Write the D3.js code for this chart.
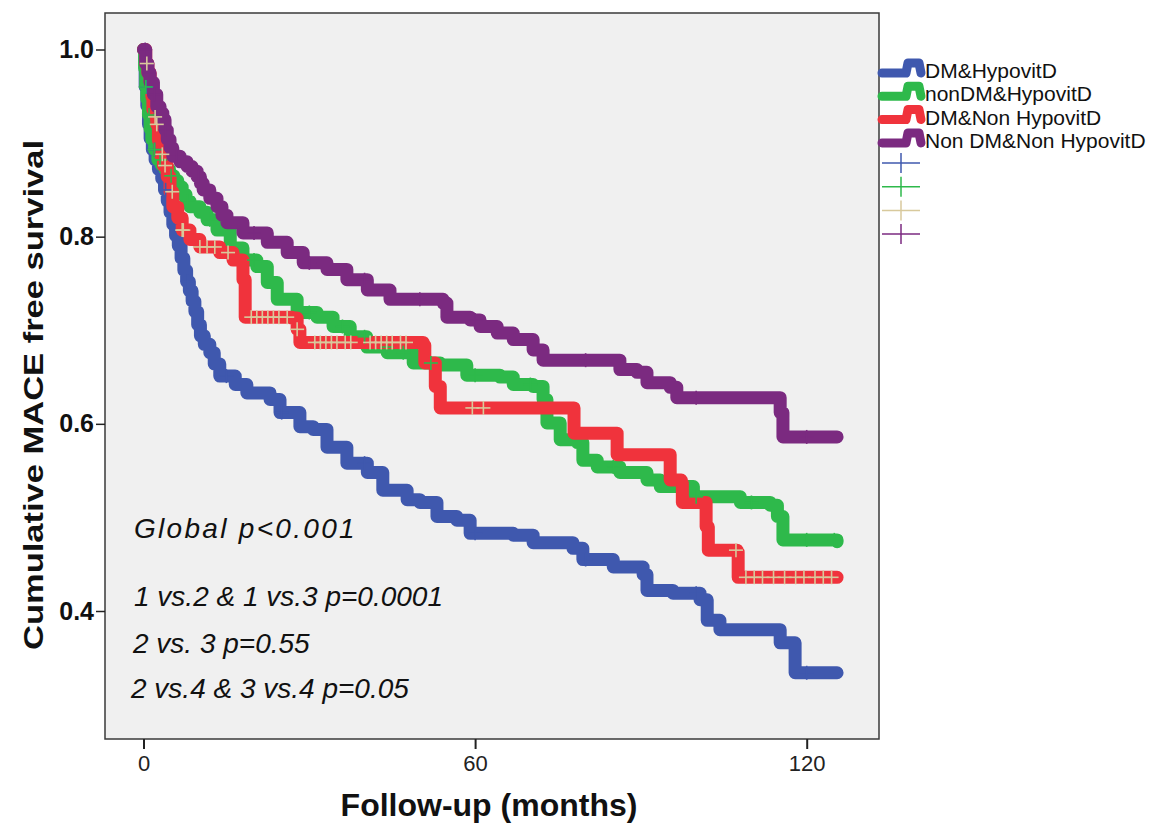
<!DOCTYPE html>
<html>
<head>
<meta charset="utf-8">
<script src="https://cdn.jsdelivr.net/npm/d3@7"></script>
<style>
  body { margin: 0; background: #fff; }
  svg { display: block; font-family: "Liberation Sans", Arial, Helvetica, sans-serif; }
</style>
</head>
<body>
<div id="chart"></div>
<script>
var width = 1156, height = 827;

// step points [month, survival]
var dmHypo = [[0,1.0],[0.3,0.96],[0.6,0.94],[0.9,0.92],[1.2,0.905],[1.6,0.893],[2.1,0.882],[2.7,0.872],[3.3,0.862],[3.8,0.85],[4.3,0.838],[4.8,0.826],[5.3,0.813],[5.8,0.801],[6.3,0.79],[6.8,0.777],[7.3,0.764],[7.8,0.752],[8.3,0.742],[8.8,0.731],[9.3,0.72],[9.8,0.706],[10.3,0.694],[11.0,0.685],[12.0,0.676],[12.8,0.664],[13.8,0.651],[16.6,0.642],[18.7,0.633],[22.9,0.626],[24.7,0.612],[28.3,0.597],[30.7,0.594],[33.2,0.575],[36.8,0.558],[40.5,0.548],[43.3,0.529],[47.7,0.519],[50.0,0.516],[53.1,0.501],[56.7,0.497],[59.1,0.483],[66.9,0.481],[70.5,0.473],[77.7,0.467],[79.5,0.455],[85.0,0.447],[90.4,0.439],[91.1,0.422],[95.8,0.419],[100.7,0.412],[102.0,0.390],[104.3,0.380],[114.6,0.380],[115.2,0.366],[117.6,0.366],[117.9,0.334],[125.5,0.334]];
var nonDmHypo = [[0,1.0],[0.2,0.98],[0.4,0.96],[0.6,0.947],[0.9,0.93],[1.2,0.915],[1.5,0.904],[2.0,0.893],[2.6,0.882],[3.2,0.877],[3.9,0.872],[4.7,0.865],[5.5,0.86],[6.2,0.853],[7.0,0.845],[7.7,0.838],[8.4,0.832],[10.2,0.826],[11.5,0.818],[13.3,0.807],[15.7,0.788],[18.0,0.775],[20.5,0.768],[22.4,0.751],[24.2,0.733],[27.8,0.719],[31.4,0.714],[34.3,0.704],[37.4,0.693],[40.4,0.682],[44.1,0.676],[48.8,0.665],[53.7,0.663],[58.5,0.652],[64.5,0.650],[66.9,0.642],[70.5,0.640],[72.3,0.626],[73.0,0.601],[75.4,0.583],[78.5,0.580],[79.5,0.561],[82.1,0.554],[86.2,0.548],[91.1,0.540],[93.5,0.533],[99.5,0.522],[108.0,0.516],[113.4,0.513],[114.7,0.501],[115.7,0.476],[125.5,0.474]];
var dmNonHypo = [[0,1.0],[0.4,0.985],[0.8,0.975],[1.2,0.965],[1.5,0.95],[1.7,0.936],[2.1,0.928],[2.4,0.92],[2.7,0.903],[3.0,0.888],[3.6,0.876],[4.3,0.864],[4.8,0.848],[5.3,0.832],[6.2,0.82],[7.0,0.807],[8.4,0.797],[10.2,0.789],[13.8,0.783],[16.2,0.775],[18.0,0.754],[18.4,0.714],[26.9,0.713],[27.8,0.701],[28.3,0.687],[50.6,0.684],[50.9,0.665],[52.8,0.640],[53.7,0.617],[77.5,0.617],[77.9,0.590],[85.3,0.590],[85.7,0.567],[94.9,0.567],[95.3,0.540],[97.3,0.537],[97.5,0.516],[101.5,0.516],[101.8,0.490],[102.2,0.465],[107.4,0.463],[107.6,0.436],[125.5,0.436]];
var nonDmNonHypo = [[0,1.0],[0.4,0.985],[0.8,0.975],[1.2,0.965],[1.8,0.952],[2.4,0.939],[3.0,0.932],[3.5,0.925],[3.9,0.914],[4.3,0.904],[4.8,0.895],[5.3,0.886],[6.6,0.88],[7.9,0.875],[8.8,0.87],[9.7,0.864],[10.3,0.857],[10.8,0.85],[12.0,0.841],[13.3,0.832],[14.2,0.823],[15.1,0.815],[18.0,0.804],[22.4,0.794],[26.0,0.783],[28.9,0.772],[33.2,0.765],[36.8,0.754],[40.5,0.743],[44.6,0.733],[54.2,0.729],[54.9,0.714],[59.1,0.711],[60.9,0.704],[64.0,0.697],[66.9,0.690],[70.5,0.679],[72.3,0.668],[85.0,0.668],[86.2,0.658],[89.3,0.655],[91.1,0.644],[95.3,0.639],[96.5,0.628],[113.9,0.628],[115.2,0.612],[115.7,0.586],[125.5,0.586]];

// censored months per group
var dmHypoCens = [0.5, 2, 4, 8, 15, 25, 40, 60, 80, 100, 120];
var nonDmHypoCens = [0.4, 1, 2, 3, 5, 8, 12, 20, 30, 36, 40, 44, 47, 52, 60, 70, 85, 100, 110, 120, 125];
var dmNonHypoCens = [0.6, 2.1, 2.4, 3.4, 3.9, 5.2, 7.0, 7.2, 10.2, 11.5, 12.9, 15.3, 19.5, 20.5, 21.5, 22.5, 23.5, 24.5, 26, 27.8, 31, 32, 33, 34, 35, 36.5, 37.5, 41, 42, 43, 44, 45, 46.5, 47.5, 59.5, 61.5, 107.2, 109, 110.5, 112, 114, 116, 118, 119.5, 121.5, 123, 124.5];
var nonDmNonHypoCens = [0.3, 1, 2, 4, 6, 10, 20, 30, 40, 50, 60, 80, 100, 120];

var groupNames = ["DM&HypovitD", "nonDM&HypovitD", "DM&Non HypovitD", "Non DM&Non HypovitD"];
var lineColors = ["#3f58ae", "#2eb94b", "#f0333c", "#7b2a80"];
var censorColors = ["#3f58ae", "#2eb94b", "#d8c99c", "#7b2a80"];

var xTicks = [0, 60, 120];
var yTicks = [0.4, 0.6, 0.8, 1.0];

var notes = ["Global p<0.001", "1 vs.2 & 1 vs.3 p=0.0001", "2 vs. 3 p=0.55", "2 vs.4 & 3 vs.4 p=0.05"];

var series = [dmHypo, nonDmHypo, dmNonHypo, nonDmNonHypo];
var censors = [dmHypoCens, nonDmHypoCens, dmNonHypoCens, nonDmNonHypoCens];

var plot = {left: 105, top: 13, right: 879, bottom: 739};

var svg = d3.select("#chart").append("svg")
    .attr("width", width)
    .attr("height", height);

var x = d3.scaleLinear().domain([0, 120]).range([143.5, 806.7]);
var y = d3.scaleLinear().domain([0.4, 1.0]).range([611, 49.5]);

svg.append("rect")
    .attr("x", plot.left).attr("y", plot.top)
    .attr("width", plot.right - plot.left).attr("height", plot.bottom - plot.top)
    .attr("fill", "#f0f0f0");

// annotations
var noteY = [538, 606, 653, 698];
var noteX = [134, 134, 133, 131];
svg.selectAll("text.note")
    .data(notes)
    .enter().append("text")
    .attr("class", "note")
    .attr("x", function (d, i) { return noteX[i]; })
    .attr("y", function (d, i) { return noteY[i]; })
    .style("font-size", "28px")
    .style("font-style", "italic")
    .style("letter-spacing", function (d, i) { return i == 0 ? "2.3px" : "0px"; })
    .attr("fill", "#111")
    .text(function (d) { return d; });

var line = d3.line()
    .x(function (d) { return x(d[0]); })
    .y(function (d) { return y(d[1]); })
    .curve(d3.curveStepAfter);

svg.selectAll("path.km")
    .data(series)
    .enter().append("path")
    .attr("class", "km")
    .attr("d", line)
    .attr("fill", "none")
    .attr("stroke", function (d, i) { return lineColors[i]; })
    .attr("stroke-width", 13)
    .attr("stroke-linejoin", "round")
    .attr("stroke-linecap", "round");

function survAt(steps, m) {
    var v = steps[0][1];
    steps.forEach(function (p) { if (p[0] <= m) v = p[1]; });
    return v;
}

censors.forEach(function (list, i) {
    var g = svg.append("g").attr("stroke", censorColors[i]).attr("stroke-width", 1.6);
    list.forEach(function (m) {
        var cx = x(m), cy = y(survAt(series[i], m));
        g.append("line").attr("x1", cx - 7).attr("x2", cx + 7).attr("y1", cy).attr("y2", cy);
        g.append("line").attr("x1", cx).attr("x2", cx).attr("y1", cy - 7).attr("y2", cy + 7);
    });
});

// frame
svg.append("rect")
    .attr("x", plot.left).attr("y", plot.top)
    .attr("width", plot.right - plot.left).attr("height", plot.bottom - plot.top)
    .attr("fill", "none")
    .attr("stroke", "#3a3a3a")
    .attr("stroke-width", 1.5);

// axes
var yAxis = d3.axisLeft(y).tickValues(yTicks).tickFormat(d3.format(".1f")).tickSize(9).tickPadding(2);
var yg = svg.append("g").attr("transform", "translate(" + plot.left + ",0)").call(yAxis);
yg.select(".domain").remove();
yg.selectAll("line").attr("stroke", "#222").attr("stroke-width", 1.5);
yg.selectAll("text")
    .style("font-size", "25px")
    .style("font-weight", "bold")
    .style("font-family", "\"Liberation Sans\", Arial, sans-serif")
    .attr("fill", "#111");

var xAxis = d3.axisBottom(x).tickValues(xTicks).tickFormat(d3.format("d")).tickSize(10).tickPadding(6);
var xg = svg.append("g").attr("transform", "translate(0," + plot.bottom + ")").call(xAxis);
xg.select(".domain").remove();
xg.selectAll("line").attr("stroke", "#222").attr("stroke-width", 2);
xg.selectAll("text")
    .style("font-size", "22px")
    .style("font-family", "\"Liberation Sans\", Arial, sans-serif")
    .attr("fill", "#222");

// axis titles
svg.append("text")
    .attr("x", 489).attr("y", 816)
    .attr("text-anchor", "middle")
    .style("font-size", "32px")
    .style("font-weight", "bold")
    .attr("fill", "#111")
    .text("Follow-up (months)");

svg.append("text")
    .attr("transform", "translate(43,395) rotate(-90)")
    .attr("text-anchor", "middle")
    .style("font-size", "27px")
    .style("font-weight", "bold")
    .attr("textLength", 510)
    .attr("lengthAdjust", "spacingAndGlyphs")
    .attr("fill", "#111")
    .text("Cumulative MACE free survival");

// legend
var legendX = 880, legendY = 71, rowH = 23.3;
var glyph = d3.line();
groupNames.forEach(function (name, i) {
    var cy = legendY + i * rowH;
    svg.append("path")
        .attr("d", glyph([[legendX + 2, cy + 2], [legendX + 26, cy + 2], [legendX + 28, cy - 8], [legendX + 39, cy - 8], [legendX + 41, cy + 2]]))
        .attr("fill", "none")
        .attr("stroke", lineColors[i])
        .attr("stroke-width", 9)
        .attr("stroke-linejoin", "round")
        .attr("stroke-linecap", "round");
    svg.append("text")
        .attr("x", legendX + 45).attr("y", cy + 7)
        .style("font-size", "21px")
        .attr("fill", "#111")
        .text(name);
});
censorColors.forEach(function (c, i) {
    var cy = 163 + i * 23.7, cx = 901;
    var g = svg.append("g").attr("stroke", c).attr("stroke-width", 1.5);
    g.append("line").attr("x1", cx - 19).attr("x2", cx + 19).attr("y1", cy).attr("y2", cy);
    g.append("line").attr("x1", cx).attr("x2", cx).attr("y1", cy - 10).attr("y2", cy + 10);
});
</script>
</body>
</html>
